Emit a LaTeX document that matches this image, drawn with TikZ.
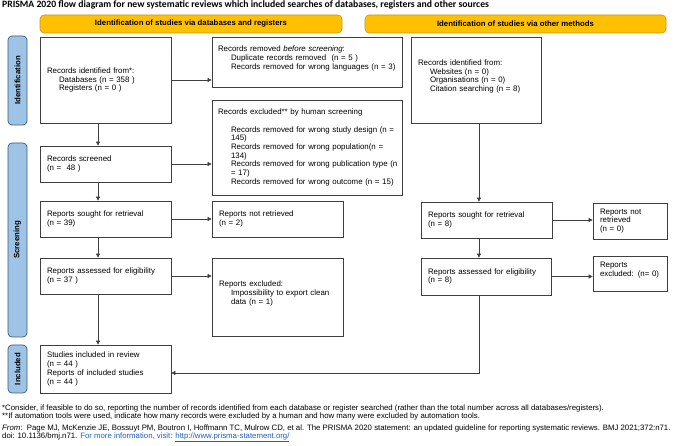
\documentclass[tikz,border=0pt]{standalone}
\usepackage{fontspec}
\setmainfont{Liberation Sans}
\newfontfamily\titlefont{Carlito}
\usetikzlibrary{arrows.meta}
\definecolor{hdrfill}{HTML}{FFC000}
\definecolor{hdrline}{HTML}{C49A1A}
\definecolor{sidefill}{HTML}{9DC3E6}
\definecolor{sideline}{HTML}{3E5C78}
\definecolor{boxline}{HTML}{404040}
\definecolor{linkblue}{HTML}{1F5FBF}
\begin{document}
\begin{tikzpicture}[x=1pt,y=-1pt,
  box/.style={draw=boxline, line width=0.7pt, align=left, inner xsep=7pt, inner ysep=2pt,
    font=\fontsize{7.9}{8.7}\selectfont},
  hdr/.style={draw=hdrline, fill=hdrfill, line width=0.6pt, rounded corners=4pt,
    font=\bfseries\fontsize{7.8}{9}\selectfont, minimum height=18pt, inner sep=0pt},
  side/.style={draw=sideline, fill=sidefill, line width=0.7pt, rounded corners=4pt, rotate=90,
    font=\bfseries\fontsize{7.8}{9}\selectfont, minimum height=19pt, inner sep=0pt},
  arr/.style={draw=boxline, line width=0.6pt, -{Triangle[length=4pt,width=4pt]}},
  foot/.style={anchor=west, inner sep=0pt, font=\fontsize{7.8}{8.5}\selectfont}
]
\useasboundingbox (0,0) rectangle (678,446);

\node[anchor=west, inner sep=0pt, font=\titlefont\bfseries\fontsize{9.7}{11}\selectfont] (title) at (2,5)
  {PRISMA 2020 flow diagram for new systematic reviews which included searches of databases, registers and other sources};

% headers
\node[hdr, minimum width=302pt] (hL) at (191,24) {Identification of studies via databases and registers};
\node[hdr, minimum width=301pt] (hR) at (515.5,24) {Identification of studies via other methods};

% side labels
\node[side, minimum width=89pt] (sI) at (17.5,80.5) {Identification};
\node[side, minimum width=194pt] (sS) at (17.5,240) {Screening};
\node[side, minimum width=48pt] (sN) at (17.5,369) {Included};

% left column
\node[box, minimum width=131pt, minimum height=86pt, text width=117pt] (A) at (105.5,80)
  {Records identified from*:\\\hspace*{12pt}Databases (n = 358 )\\\hspace*{12pt}Registers (n = 0 )};
\node[box, minimum width=190pt, minimum height=50pt, text width=180pt, inner xsep=5pt] (B) at (307,62)
  {\hspace*{1pt}Records removed \textit{before screening}:\\\hspace*{14pt}Duplicate records removed\ \ (n = 5 )\\\hspace*{14pt}Records removed for wrong languages (n = 3)\\\mbox{}};
\node[box, minimum width=131pt, minimum height=36pt, text width=117pt] (C) at (105.5,164)
  {Records screened\\(n = \ 48 )};
\node[box, minimum width=190pt, minimum height=95pt, text width=180pt, inner xsep=5pt] (D) at (307,147.5)
  {\hspace*{1pt}Records excluded** by human screening\\\mbox{}\\
   \hspace*{14pt}Records removed for wrong study design (n =\\
   \hspace*{14pt}145)\\
   \hspace*{14pt}Records removed for wrong population(n =\\
   \hspace*{14pt}134)\\
   \hspace*{14pt}\mbox{Records removed for wrong publication type (n}\\
   \hspace*{14pt}= 17)\\
   \hspace*{14pt}Records removed for wrong outcome (n = 15)};
\node[box, minimum width=131pt, minimum height=36pt, text width=117pt] (E) at (105.5,219)
  {Reports sought for retrieval\\(n = 39)};
\node[box, minimum width=131pt, minimum height=36pt, text width=117pt] (F) at (277.5,219)
  {Reports not retrieved\\(n = 2)};
\node[box, minimum width=131pt, minimum height=36pt, text width=117pt] (G) at (105.5,276)
  {Reports assessed for eligibility\\(n = 37 )};
\node[box, minimum width=131pt, minimum height=78pt, text width=117pt] (H) at (277.5,297)
  {Reports excluded:\\\hspace*{12pt}Impossibility to export clean\\\hspace*{12pt}data (n = 1)\\\mbox{}};
\node[box, minimum width=131pt, minimum height=48pt, text width=117pt] (I) at (105.5,369)
  {Studies included in review\\(n = 44 )\\Reports of included studies\\(n = 44 )};

% right column
\node[box, minimum width=130pt, minimum height=86pt, text width=116pt] (J) at (476,80)
  {Records identified from:\\\hspace*{12pt}Websites (n = 0)\\\hspace*{12pt}Organisations (n = 0)\\\hspace*{12pt}Citation searching (n = 8)\\\mbox{}};
\node[box, minimum width=131pt, minimum height=36pt, text width=117pt] (K) at (486.5,220)
  {Reports sought for retrieval\\(n = 8)};
\node[box, minimum width=74pt, minimum height=36pt, text width=60pt] (L) at (630,221)
  {Reports not\\retrieved\\(n = 0)};
\node[box, minimum width=130pt, minimum height=37pt, text width=116pt] (M) at (486,276.5)
  {Reports assessed for eligibility\\(n = 8)};
\node[box, minimum width=74pt, minimum height=35pt, text width=60pt] (N) at (630,273.5)
  {Reports\\excluded: (n= 0)\\\mbox{}};

% connector helpers
\coordinate (colL) at (98,0);
\coordinate (colR) at (479,0);
\coordinate (turn) at (479,373);

% connectors
\draw[arr] (A.east) -- (A.east -| B.west);
\draw[arr] (C.east) -- (C.east -| D.west);
\draw[arr] (E.east) -- (F.west);
\draw[arr] (G.east) -- (G.east -| H.west);
\draw[arr] (A.south -| colL) -- (C.north -| colL);
\draw[arr] (C.south -| colL) -- (E.north -| colL);
\draw[arr] (E.south -| colL) -- (G.north -| colL);
\draw[arr] (G.south -| colL) -- (I.north -| colL);
\draw[arr] (J.south -| colR) -- (K.north -| colR);
\draw[arr] (K.east) -- (K.east -| L.west);
\draw[arr] (K.south -| colR) -- (M.north -| colR);
\draw[arr] (M.east) -- (M.east -| N.west);
\draw[arr] (M.south -| turn) -- (turn) -- (turn -| I.east);

% footer
\node[foot] (f1) at (2,408) {*Consider, if feasible to do so, reporting the number of records identified from each database or register searched (rather than the total number across all databases/registers).};
\node[foot] (f2) at (2,416) {**If automation tools were used, indicate how many records were excluded by a human and how many were excluded by automation tools.};
\node[foot] (f3) at (2,428) {\textit{From}:\ \ Page MJ, McKenzie JE, Bossuyt PM, Boutron I, Hoffmann TC, Mulrow CD, et al. The PRISMA 2020 statement: an updated guideline for reporting systematic reviews. BMJ 2021;372:n71.};
\node[foot] (f4) at (2,437) {doi: 10.1136/bmj.n71. {\color{linkblue}For more information, visit: \underline{http://www.prisma-statement.org/}}};
\end{tikzpicture}
\end{document}
